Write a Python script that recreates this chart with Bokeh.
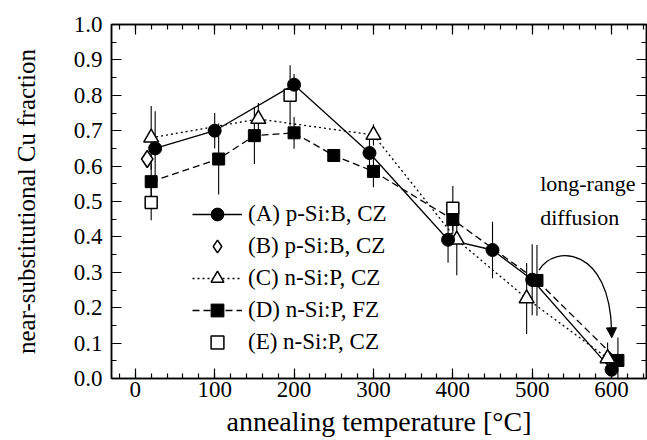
from bokeh.plotting import figure
from bokeh.models import (Range1d, LinearAxis, SingleIntervalTicker, PrintfTickFormatter,
                          CustomJSTickFormatter, Legend, LegendItem, Label, Arrow, NormalHead)
from bokeh.embed import file_html
from bokeh.resources import INLINE

# ---------------- data ----------------
a_temp = [25, 100, 200, 295, 394, 450, 500, 600]
a_frac = [0.65, 0.70, 0.83, 0.637, 0.392, 0.363, 0.279, 0.025]
a_err = [0.105, 0.05, 0.03, 0.04, 0.065, 0.08, 0.10, 0.02]

b_temp = [15]
b_frac = [0.62]

c_temp = [20, 155, 300, 405, 493, 595]
c_frac = [0.68, 0.733, 0.688, 0.392, 0.226, 0.057]
c_err = [0.09, 0.045, 0.03, 0.10, 0.10, 0.045]

d_temp = [20, 105, 150, 200, 250, 300, 400, 506, 608]
d_frac = [0.556, 0.62, 0.686, 0.694, 0.63, 0.585, 0.449, 0.277, 0.051]
d_err = [0.05, 0.10, 0.08, 0.045, 0.0, 0.045, 0.04, 0.10, 0.065]

e_temp = [20, 195, 400]
e_frac = [0.497, 0.80, 0.481]
e_err = [0.05, 0.085, 0.063]

labels = ["(A) p-Si:B, CZ", "(B) p-Si:B, CZ", "(C) n-Si:P, CZ",
          "(D) n-Si:P, FZ", "(E) n-Si:P, CZ"]

x_title = "annealing temperature [°C]"
y_title = "near-substitutional Cu fraction"

x_ticks_interval = 100
y_ticks_interval = 0.1

annot_lines = ["long-range", "diffusion"]
annot_x = 510
annot_y = [0.551, 0.455]

arrow_x0, arrow_y0 = 508.6, 0.306
arrow_cx0, arrow_cy0 = 528, 0.38
arrow_cx1, arrow_cy1 = 598, 0.37
arrow_x1, arrow_y1 = 600, 0.135
head_x, head_y = 600.2, 0.115

FONT = "Liberation Serif"

p = figure(width=647, height=440, x_range=Range1d(-30, 644), y_range=Range1d(0, 1),
           output_backend="svg", toolbar_location=None,
           min_border_left=111, min_border_right=1, min_border_top=24, min_border_bottom=62)
p.xgrid.visible = False
p.ygrid.visible = False
p.outline_line_color = "black"
p.outline_line_width = 1.5
p.background_fill_color = "white"
p.border_fill_color = "white"


def style_axis(ax, ticker, show_labels=True):
    ax.ticker = ticker
    ax.axis_line_color = "black"
    ax.axis_line_width = 1.5
    ax.major_tick_line_color = "black"
    ax.minor_tick_line_color = "black"
    ax.major_tick_line_width = 1.2
    ax.minor_tick_line_width = 1.2
    ax.major_tick_in = 10
    ax.major_tick_out = 0
    ax.minor_tick_in = 5
    ax.minor_tick_out = 0
    ax.major_label_text_font = FONT
    ax.major_label_text_color = "black"
    if show_labels:
        ax.major_label_text_font_size = "23px"
    else:
        ax.formatter = CustomJSTickFormatter(code="return ''")
        ax.major_label_text_font_size = "1px"
        ax.major_label_standoff = 0


xt = SingleIntervalTicker(interval=x_ticks_interval, num_minor_ticks=5)
yt = SingleIntervalTicker(interval=y_ticks_interval, num_minor_ticks=2)

style_axis(p.xaxis[0], xt)
style_axis(p.yaxis[0], yt)
p.yaxis[0].formatter = PrintfTickFormatter(format="%.1f")
p.xaxis[0].major_label_standoff = 3
p.yaxis[0].major_label_standoff = 9

p.xaxis[0].axis_label = x_title
p.yaxis[0].axis_label = y_title
for ax in (p.xaxis[0], p.yaxis[0]):
    ax.axis_label_text_font = FONT
    ax.axis_label_text_font_style = "normal"
    ax.axis_label_text_color = "black"
p.xaxis[0].axis_label_text_font_size = "28px"
p.xaxis[0].axis_label_text_line_height = 0.9
p.yaxis[0].axis_label_text_font_size = "25px"
p.xaxis[0].axis_label_standoff = 6
p.yaxis[0].axis_label_standoff = 31

top_ax = LinearAxis()
right_ax = LinearAxis()
style_axis(top_ax, SingleIntervalTicker(interval=x_ticks_interval, num_minor_ticks=5), False)
style_axis(right_ax, SingleIntervalTicker(interval=y_ticks_interval, num_minor_ticks=2), False)
p.add_layout(top_ax, "above")
p.add_layout(right_ax, "right")

# ---------------- lines ----------------
a_line = p.line(a_temp, a_frac, line_color="black", line_width=1.3)
c_line = p.line(c_temp, c_frac, line_color="black", line_width=1.3, line_dash="2 3")
d_line = p.line(d_temp, d_frac, line_color="black", line_width=1.3, line_dash="7 4")

# ---------------- error bars ----------------
for xs, ys, es in ((a_temp, a_frac, a_err), (c_temp, c_frac, c_err),
                   (d_temp, d_frac, d_err), (e_temp, e_frac, e_err)):
    p.segment(x0=xs, y0=[y - e for y, e in zip(ys, es)],
              x1=xs, y1=[y + e for y, e in zip(ys, es)],
              line_color="black", line_width=1.1)

# ---------------- markers ----------------
e_pts = p.scatter(e_temp, e_frac, marker="square", size=12, fill_color="white",
                  line_color="black", line_width=1.5)
b_pts = p.scatter(b_temp, b_frac, marker="diamond", size=17,
                  fill_color="white", line_color="black", line_width=1.5)
d_pts = p.scatter(d_temp, d_frac, marker="square", size=12, fill_color="black",
                  line_color="black", line_width=1)
c_pts = p.scatter(c_temp, c_frac, marker="triangle", size=15, fill_color="white",
                  line_color="black", line_width=1.5)
a_pts = p.scatter(a_temp, a_frac, marker="circle", size=13, fill_color="black",
                  line_color="black", line_width=1)

# ---------------- arrow & annotation ----------------
p.bezier(x0=[arrow_x0], y0=[arrow_y0], x1=[arrow_x1], y1=[arrow_y1],
         cx0=[arrow_cx0], cy0=[arrow_cy0], cx1=[arrow_cx1], cy1=[arrow_cy1],
         line_color="black", line_width=1.3)
p.add_layout(Arrow(end=NormalHead(size=10, fill_color="black", line_color="black", line_width=1),
                   x_start=arrow_x1, y_start=arrow_y1, x_end=head_x, y_end=head_y,
                   line_color="black", line_width=1.3))
for txt, yy in zip(annot_lines, annot_y):
    p.add_layout(Label(x=annot_x, y=yy, text=txt, text_font=FONT, text_font_size="22px",
                       text_baseline="middle", text_align="left", text_color="black"))

# ---------------- legend ----------------
legend = Legend(items=[
    LegendItem(label=labels[0], renderers=[a_line, a_pts]),
    LegendItem(label=labels[1], renderers=[b_pts]),
    LegendItem(label=labels[2], renderers=[c_line, c_pts]),
    LegendItem(label=labels[3], renderers=[d_line, d_pts]),
    LegendItem(label=labels[4], renderers=[e_pts]),
], location=(81, 20), orientation="vertical", padding=0, margin=0, spacing=0,
    glyph_width=50, glyph_height=32, label_height=32, label_standoff=6,
    border_line_color=None, background_fill_alpha=0,
    label_text_font=FONT, label_text_font_size="23px", label_text_color="black")
p.add_layout(legend)

open("out.html", "w").write(file_html(p, INLINE))
